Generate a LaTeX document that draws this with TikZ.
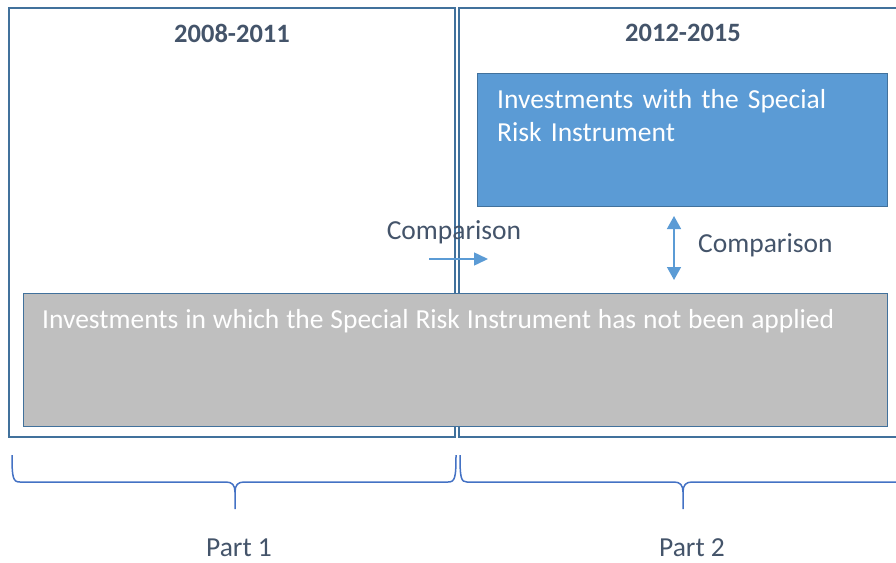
\documentclass[tikz,border=0pt]{standalone}
\usepackage{fontspec}
\setmainfont{Carlito}
\usetikzlibrary{arrows.meta}
\definecolor{txt}{HTML}{44546A}
\definecolor{frame}{HTML}{41719C}
\definecolor{boxblue}{HTML}{5B9BD5}
\definecolor{boxgray}{HTML}{BFBFBF}
\definecolor{brace}{HTML}{4472C4}
\tikzset{
  frameline/.style={draw=frame, line width=1.3pt},
  boxstyle/.style={draw=frame, line width=1.3pt, rectangle, inner sep=0pt, anchor=north west},
  boxtext/.style={anchor=north west, inner sep=0pt, align=left, text=white, font=\fontsize{27.5}{33}\selectfont},
  lbl/.style={text=txt, font=\fontsize{27.5}{30}\selectfont, inner sep=0pt},
  yearlbl/.style={text=txt, font=\fontsize{26.5}{30}\selectfont\bfseries, inner sep=0pt},
  arr/.style={draw=boxblue, line width=1.5pt},
  bracestyle/.style={draw=brace, line width=1.5pt},
}
\begin{document}
\begin{tikzpicture}[x=1pt,y=-1pt]
\useasboundingbox (0,0) rectangle (896,562);
% frames
\draw[frameline] (9,8) rectangle (455,437);
\draw[frameline] (896,8) -- (459,8) -- (459,437) -- (896,437);
\node[yearlbl] (y1) at (232,33) {2008-2011};
\node[yearlbl] (y2) at (683,33) {2012-2015};
% blue box
\node[boxstyle, fill=boxblue, minimum width=410pt, minimum height=133pt] (sri) at (477,73) {};
\node[boxtext, text width=380pt] (sritxt) at (497,89) {Investments with the Special\\Risk Instrument};
% gray box
\node[boxstyle, fill=boxgray, minimum width=864pt, minimum height=133pt] (nosri) at (23,293) {};
\node[boxtext, text width=840pt] (nosritxt) at (42,309) {\spaceskip=0.25em Investments in which the Special Risk Instrument has not been applied};
% comparisons
\node[lbl] (cmp1) at (454,232) {Comparison};
\coordinate (h1) at (429,259);
\coordinate (h2) at (488,259);
\draw[arr, -{Triangle[length=14pt,width=13pt]}] (h1) -- (h2);
\node[lbl, anchor=west] (cmp2) at (698,245) {Comparison};
\coordinate (v1) at (674,216);
\coordinate (v2) at (674,280);
\draw[arr, {Triangle[length=13pt,width=14pt]}-{Triangle[length=13pt,width=14pt]}] (v1) -- (v2);
% braces
\draw[bracestyle] (12,455) .. controls (12,478) and (13,482) .. (20,482) -- (226,482)
  .. controls (232,482) and (235,485) .. (235,492) -- (235,509);
\draw[bracestyle] (235,492) .. controls (235,485) and (238,482) .. (244,482) -- (448,482)
  .. controls (455,482) and (456,478) .. (456,455);
\draw[bracestyle] (460,455) .. controls (460,478) and (461,482) .. (467,482) -- (674,482)
  .. controls (680,482) and (683,485) .. (683,492) -- (683,509);
\draw[bracestyle] (683,492) .. controls (683,485) and (686,482) .. (692,482) -- (896,482);
\node[lbl] (p1) at (239,548) {Part 1};
\node[lbl] (p2) at (692,548) {Part 2};
\end{tikzpicture}
\end{document}
